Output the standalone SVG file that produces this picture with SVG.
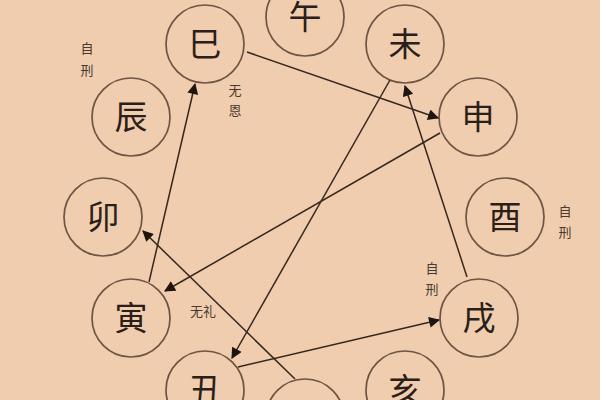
<svg xmlns="http://www.w3.org/2000/svg" width="600" height="400" viewBox="0 0 600 400">
<style>
.n circle{fill:none;stroke:#6e5443;stroke-width:1.7}
.n text{font-family:"Noto Sans CJK SC","Noto Sans CJK JP",sans-serif;font-size:33px;fill:#2b2019;text-anchor:middle;dominant-baseline:central}
.lbl{font-family:"Noto Sans CJK SC","Noto Sans CJK JP",sans-serif;font-size:13px;fill:#4a3a2e;text-anchor:middle;dominant-baseline:central}
#edges line{stroke:#35271e;stroke-width:1.5;fill:none}
</style>
<defs>
<marker id="ah" viewBox="0 0 10 10" refX="9" refY="5" markerWidth="12" markerHeight="11" markerUnits="userSpaceOnUse" orient="auto">
<path d="M0,0 L10,5 L0,10 z" fill="#1e1510"/>
</marker>
</defs>
<rect width="600" height="400" fill="#efcdae"/>
<g id="n-wu" class="n"><circle cx="305" cy="17" r="39"/><text x="305" y="15">午</text></g>
<g id="n-wei" class="n"><circle cx="405" cy="44" r="39"/><text x="405" y="42">未</text></g>
<g id="n-shen" class="n"><circle cx="478" cy="117" r="39"/><text x="478" y="115">申</text></g>
<g id="n-you" class="n"><circle cx="505" cy="217" r="39"/><text x="505" y="215">酉</text></g>
<g id="n-xu" class="n"><circle cx="479" cy="318" r="39"/><text x="479" y="316">戌</text></g>
<g id="n-hai" class="n"><circle cx="405" cy="390" r="39"/><text x="405" y="388">亥</text></g>
<g id="n-zi" class="n"><circle cx="305" cy="418" r="39"/><text x="305" y="416">子</text></g>
<g id="n-chou" class="n"><circle cx="205" cy="390" r="39"/><text x="205" y="388">丑</text></g>
<g id="n-yin" class="n"><circle cx="131" cy="318" r="39"/><text x="131" y="316">寅</text></g>
<g id="n-mao" class="n"><circle cx="103" cy="217" r="39"/><text x="103" y="215">卯</text></g>
<g id="n-chen" class="n"><circle cx="131" cy="117" r="39"/><text x="131" y="115">辰</text></g>
<g id="n-si" class="n"><circle cx="205" cy="44" r="39"/><text x="205" y="42">巳</text></g>
<g id="edges">
<line x1="247" y1="52" x2="438" y2="118" marker-end="url(#ah)"/>
<line x1="440" y1="133" x2="165" y2="291" marker-end="url(#ah)"/>
<line x1="149" y1="282" x2="195" y2="84" marker-end="url(#ah)"/>
<line x1="390" y1="80" x2="232" y2="358" marker-end="url(#ah)"/>
<line x1="238" y1="367" x2="439" y2="320" marker-end="url(#ah)"/>
<line x1="467" y1="277" x2="405" y2="86" marker-end="url(#ah)"/>
<line x1="295" y1="379" x2="143" y2="231" marker-end="url(#ah)"/>
</g>
<g id="labels">
<text class="lbl" x="87" y="47">自</text><text class="lbl" x="87" y="69">刑</text>
<text class="lbl" x="235" y="89">无</text><text class="lbl" x="235" y="109">恩</text>
<text class="lbl" x="203" y="310">无礼</text>
<text class="lbl" x="565" y="210">自</text><text class="lbl" x="565" y="231">刑</text>
<text class="lbl" x="432" y="267">自</text><text class="lbl" x="432" y="288">刑</text>
</g>
</svg>
